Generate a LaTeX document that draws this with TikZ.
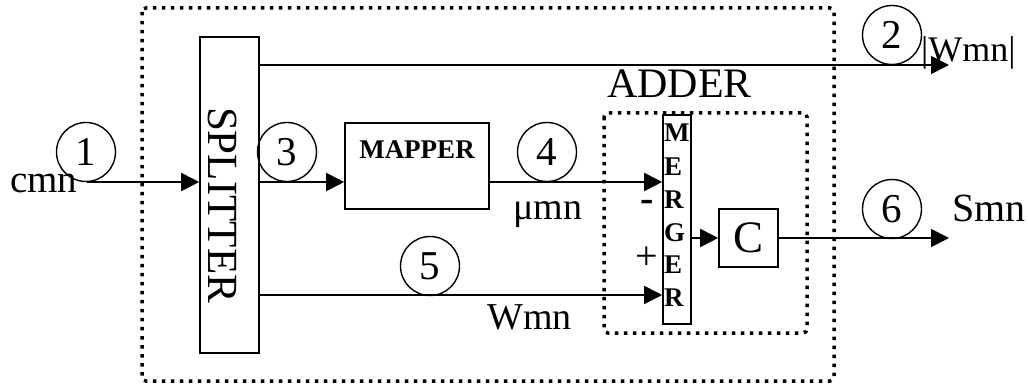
\documentclass[tikz,border=0pt]{standalone}
\usepackage{fontspec}
\setmainfont{Liberation Serif}
\usetikzlibrary{arrows.meta}
\begin{document}
\begin{tikzpicture}[x=1pt,y=-1pt,
  box/.style={draw,line width=1.6pt,inner sep=0pt},
  conn/.style={line width=1.8pt},
  arr/.style={conn,-{Triangle[length=18pt,width=18pt]}},
  num/.style={draw,circle,line width=1.4pt,minimum size=59pt,inner sep=0pt,font=\fontsize{41}{41}\selectfont},
  dotbox/.style={line width=3.5pt,dash pattern=on 3.5pt off 5.5pt,rounded corners=4pt},
  lab/.style={inner sep=0pt,font=\fontsize{#1}{#1}\selectfont},
  blab/.style={inner sep=0pt,font=\fontsize{#1}{#1}\selectfont\bfseries},
]
\useasboundingbox (0,0) rectangle (1028,387);
\fill[white] (0,0) rectangle (1028,387);

% dotted boxes
\draw[dotbox] (142,8) rectangle (834,381);
\draw[dotbox] (604,113) rectangle (807,333);

% blocks
\node[box,minimum width=59pt,minimum height=316pt] (split) at (229.5,195) {};
\node[lab=43,rotate=-90] (spt) at (223,205) {SPLITTER};
\node[box,minimum width=144pt,minimum height=86pt] (map) at (417,166) {};
\node[blab=27,anchor=base] (mapt) at (417,159) {MAPPER};
\node[box,minimum width=28pt,minimum height=209pt] (merg) at (677,219.5) {};
\node[blab=27,anchor=base west] (mg1) at (664,142) {M};
\node[blab=27,anchor=base west] (mg2) at (664,176) {E};
\node[blab=27,anchor=base west] (mg3) at (664,209) {R};
\node[blab=27,anchor=base west] (mg4) at (664,242) {G};
\node[blab=27,anchor=base west] (mg5) at (664,274) {E};
\node[blab=27,anchor=base west] (mg6) at (664,307) {R};
\node[box,minimum width=59pt,minimum height=58pt,font=\fontsize{45}{45}\selectfont] (cbox) at (748.5,238) {C};

% row coordinates
\coordinate (cin) at (87,182);
\coordinate (r3) at (0,182);
\coordinate (r5) at (0,295);
\coordinate (r2) at (0,65);
\coordinate (out2) at (949,65);
\coordinate (out6) at (949,238);

% connectors
\draw[arr] (cin) -- (cin -| split.west);
\draw[arr] (split.east |- r2) -- (out2);
\draw[arr] (split.east |- r3) -- (map.west |- r3);
\draw[arr] (map.east |- r3) -- (merg.west |- r3);
\draw[arr] (split.east |- r5) -- (merg.west |- r5);
\draw[arr] (merg.east |- cbox.west) -- (cbox.west);
\draw[arr] (cbox.east) -- (out6);

% numbered circles
\node[num] (c1) at (86,152) {1};
\node[num] (c2) at (892,35) {2};
\node[num] (c3) at (287,152) {3};
\node[num] (c4) at (547,152) {4};
\node[num] (c5) at (430,266) {5};
\node[num] (c6) at (892,209) {6};

% labels
\node[lab=39,anchor=base west] (lcmn) at (10,193) {cmn};
\node[lab=38,anchor=base west] (lmu) at (513,220) {μmn};
\node[lab=38,anchor=base west] (lw) at (487,330) {Wmn};
\node[lab=42,anchor=base west] (ladd) at (607,98) {ADDER};
\node[lab=36,anchor=base west] (labsw) at (921,62) {|Wmn|};
\node[lab=40,anchor=base west] (ls) at (952,222) {Smn};
\node[blab=40] (lminus) at (647,206) {-};
\node[lab=40] (lplus) at (647,258) {+};
\end{tikzpicture}
\end{document}
